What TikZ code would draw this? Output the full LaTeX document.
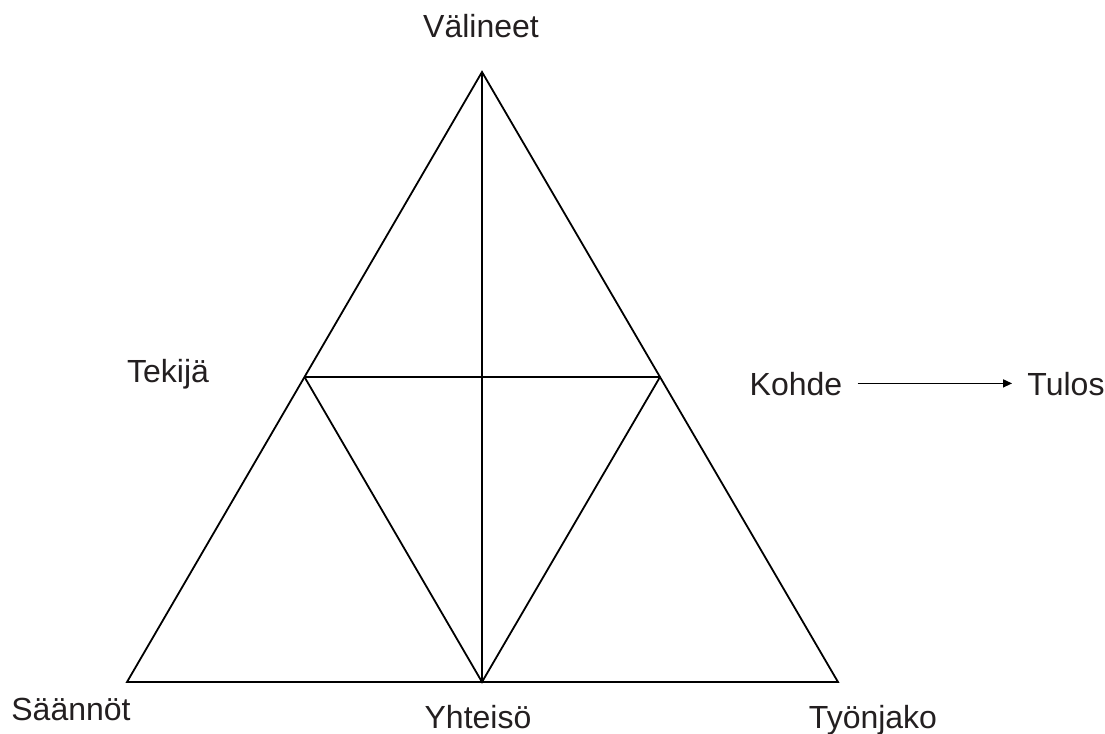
\documentclass[tikz,border=0pt]{standalone}
\usepackage{fontspec}
\setmainfont{Liberation Sans}
\usetikzlibrary{arrows.meta,calc}
\definecolor{ink}{HTML}{231F20}

\begin{document}
\begin{tikzpicture}[
    x=0.5pt, y=-0.5pt,
    label/.style={inner sep=0pt, anchor=base, text=ink, font=\fontsize{16}{19}\selectfont},
    edge/.style={line width=0.9pt, line join=miter}
]
    \useasboundingbox (0,0) rectangle (1105,734);

    % corners of the triangle
    \coordinate (top) at (482,72);
    \coordinate (left) at (127,682);
    \coordinate (right) at (838,682);
    \coordinate (bottom) at (482,682);
    \coordinate (midl) at ($(top)!0.5!(left)$);
    \coordinate (midr) at ($(top)!0.5!(right)$);

    \draw[edge] (top) -- (left) -- (right) -- cycle;
    \draw[edge] (top) -- (bottom);
    \draw[edge] (midl) -- (midr);
    \draw[edge] (midl) -- (bottom) -- (midr);

    % labels
    \node[label] (valineet) at (481,37) {Välineet};
    \node[label] (tekija) at (168,382) {Tekijä};
    \node[label] (saannot) at (71,720) {Säännöt};
    \node[label] (yhteiso) at (478,728) {Yhteisö};
    \node[label] (tyonjako) at (873,728) {Työnjako};
    \node[label] (kohde) at (796,395) {Kohde};
    \node[label] (tulos) at (1066,395) {Tulos};

    \draw[line width=0.7pt, -{Triangle[length=4.5pt, width=4pt]}]
        ([xshift=7.5pt, yshift=5.8pt]kohde.base east) -- ([xshift=-7.5pt, yshift=5.8pt]tulos.base west);
\end{tikzpicture}
\end{document}
